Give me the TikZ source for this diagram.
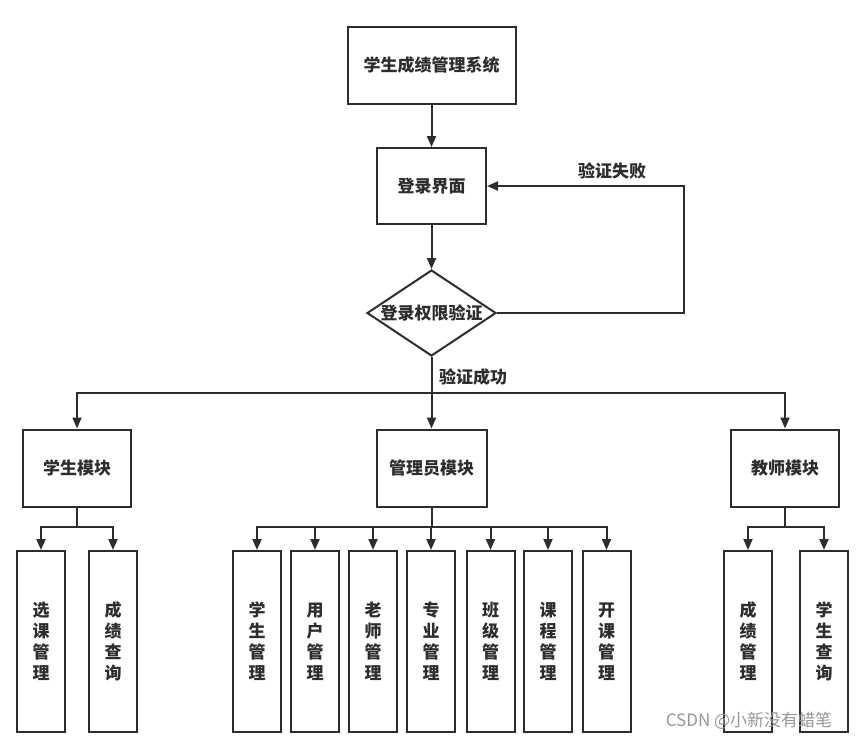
\documentclass[tikz,border=0pt]{standalone}
\usepackage{fontspec}
\setmainfont{Noto Sans CJK SC}
\usetikzlibrary{arrows.meta,positioning,shapes.geometric}
\definecolor{chartLine}{RGB}{45,45,45}
\definecolor{markGray}{RGB}{150,150,150}

\begin{document}
\begin{tikzpicture}[x=1pt,y=-1pt,
  every node/.style={font=\fontsize{17}{21}\selectfont\bfseries,text=chartLine},
  box/.style={draw=chartLine,line width=2pt,inner sep=0pt},
  headbox/.style={box,minimum width=108pt,minimum height=77pt},
  subbox/.style={box,minimum width=48pt,minimum height=181pt,text width=17pt,align=center},
  decide/.style={box,diamond,aspect=1.5,minimum width=129pt,minimum height=86pt},
  link/.style={draw=chartLine,line width=2pt},
  arr/.style={link,-{Triangle[length=11pt,width=9pt]}}]
  \useasboundingbox (0,0) rectangle (865,742);
  \node[box,minimum width=168pt,minimum height=77pt] (sys) at (431.5,65) {学生成绩管理系统};
  \node[headbox,minimum width=109pt,minimum height=76pt] (login) at (431.5,186) {登录界面};
  \node[decide] (check) at (431.5,313) {登录权限验证};
  \node[headbox] (stu) at (77,468) {学生模块};
  \node[headbox,minimum width=110pt] (adm) at (431.5,468) {管理员模块};
  \node[headbox] (tea) at (785,468) {教师模块};
  \draw[arr] (sys) -- (login);
  \draw[arr] (login) -- (check);
  \coordinate (failTurn) at (684,313);
  \draw[arr] (check.east) -- (failTurn) |- (login.east);
  \node (fail) at (612,171) {验证失败};
  \coordinate (okJoin) at (431.5,393);
  \draw[arr] (check.south) -- (adm.north);
  \draw[arr] (okJoin) -| (stu.north);
  \draw[arr] (okJoin) -| (tea.north);
  \node (ok) at (473,377) {验证成功};
  % student
  \node[subbox] (stuA) at (41,641.5) {选\\课\\管\\理};
  \node[subbox] (stuB) at (113,641.5) {成\\绩\\查\\询};
  \coordinate (stuJ) at (77,527);
  \draw[link] (stu.south) -- (stuJ);
  \foreach \s in {stuA,stuB} \draw[arr] (stuJ) -| (\s.north);
  % admin
  \coordinate (admJ) at (431.5,527);
  \draw[link] (adm.south) -- (admJ);
  \foreach \x/\t [count=\i] in {257/学\\生,315/用\\户,373/老\\师,431/专\\业,490.5/班\\级,548/课\\程,606.5/开\\课}{
    \node[subbox] (admS\i) at (\x,641.5) {\t\\管\\理};
    \draw[arr] (admJ) -| (admS\i.north);
  }
  % teacher
  \node[subbox] (teaA) at (748,641.5) {成\\绩\\管\\理};
  \node[subbox] (teaB) at (824,641.5) {学\\生\\查\\询};
  \coordinate (teaJ) at (785,527);
  \draw[link] (tea.south) -- (teaJ);
  \foreach \s in {teaA,teaB} \draw[arr] (teaJ) -| (\s.north);
  \node[font=\fontsize{17}{20}\selectfont,text=markGray] (mark) at (749,721) {CSDN @小新没有蜡笔};
\end{tikzpicture}
\end{document}
